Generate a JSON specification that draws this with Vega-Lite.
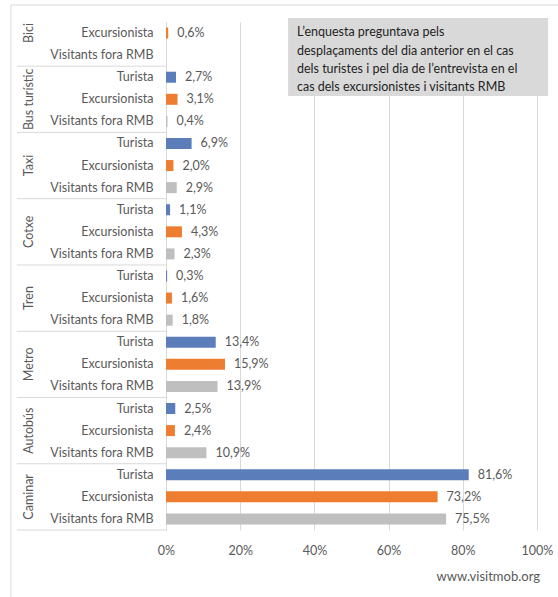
{
  "$schema": "https://vega.github.io/schema/vega-lite/v6.json",
  "width": 371,
  "height": 508,
  "autosize": {"type": "none"},
  "padding": {"left": 166, "top": 22, "right": 21, "bottom": 67},
  "background": "white",
  "config": {
    "view": {"stroke": null},
    "font": "Lato",
    "axis": {"labelFont": "Lato", "labelColor": "#595959", "labelFontSize": 12.5}
  },
  "resolve": {"scale": {"y": "independent"}, "axis": {"y": "independent"}},
  "layer": [
    {
      "data": {
        "values": [
          {"group": "Bici", "series": "Excursionista", "pct": 0.6},
          {"group": "Bici", "series": "Visitants fora RMB", "pct": null},
          {"group": "Bus turístic", "series": "Turista", "pct": 2.7},
          {"group": "Bus turístic", "series": "Excursionista", "pct": 3.1},
          {"group": "Bus turístic", "series": "Visitants fora RMB", "pct": 0.4},
          {"group": "Taxi", "series": "Turista", "pct": 6.9},
          {"group": "Taxi", "series": "Excursionista", "pct": 2.0},
          {"group": "Taxi", "series": "Visitants fora RMB", "pct": 2.9},
          {"group": "Cotxe", "series": "Turista", "pct": 1.1},
          {"group": "Cotxe", "series": "Excursionista", "pct": 4.3},
          {"group": "Cotxe", "series": "Visitants fora RMB", "pct": 2.3},
          {"group": "Tren", "series": "Turista", "pct": 0.3},
          {"group": "Tren", "series": "Excursionista", "pct": 1.6},
          {"group": "Tren", "series": "Visitants fora RMB", "pct": 1.8},
          {"group": "Metro", "series": "Turista", "pct": 13.4},
          {"group": "Metro", "series": "Excursionista", "pct": 15.9},
          {"group": "Metro", "series": "Visitants fora RMB", "pct": 13.9},
          {"group": "Autobús", "series": "Turista", "pct": 2.5},
          {"group": "Autobús", "series": "Excursionista", "pct": 2.4},
          {"group": "Autobús", "series": "Visitants fora RMB", "pct": 10.9},
          {"group": "Caminar", "series": "Turista", "pct": 81.6},
          {"group": "Caminar", "series": "Excursionista", "pct": 73.2},
          {"group": "Caminar", "series": "Visitants fora RMB", "pct": 75.5}
        ]
      },
      "transform": [
        {"calculate": "datum.group + '|' + datum.series", "as": "key"},
        {"calculate": "datum.pct == null ? '' : replace(format(datum.pct, '.1f'), '.', ',') + '%'", "as": "lbl"},
        {"calculate": "datum.series == 'Excursionista' ? datum.group : ''", "as": "glabel"}
      ],
      "layer": [
        {
          "mark": {"type": "bar", "size": 11},
          "encoding": {
            "y": {
              "field": "key", "type": "nominal", "sort": null,
              "scale": {
                "paddingInner": 0, "paddingOuter": 0,
                "domain": [
                  "Bici|Excursionista", "Bici|Visitants fora RMB",
                  "Bus turístic|Turista", "Bus turístic|Excursionista", "Bus turístic|Visitants fora RMB",
                  "Taxi|Turista", "Taxi|Excursionista", "Taxi|Visitants fora RMB",
                  "Cotxe|Turista", "Cotxe|Excursionista", "Cotxe|Visitants fora RMB",
                  "Tren|Turista", "Tren|Excursionista", "Tren|Visitants fora RMB",
                  "Metro|Turista", "Metro|Excursionista", "Metro|Visitants fora RMB",
                  "Autobús|Turista", "Autobús|Excursionista", "Autobús|Visitants fora RMB",
                  "Caminar|Turista", "Caminar|Excursionista", "Caminar|Visitants fora RMB"
                ]
              },
              "axis": {
                "title": null, "labelExpr": "split(datum.value, '|')[1]",
                "ticks": false, "domain": true, "domainColor": "#D9D9D9",
                "labelPadding": 13, "grid": false
              }
            },
            "x": {
              "field": "pct", "type": "quantitative",
              "scale": {"domain": [0, 100], "nice": false},
              "axis": {
                "title": null, "values": [0, 20, 40, 60, 80, 100],
                "labelExpr": "datum.value + '%'", "grid": true, "gridColor": "#D9D9D9",
                "domain": false, "ticks": false, "labelPadding": 14, "labelFlush": false
              }
            },
            "color": {
              "field": "series", "type": "nominal",
              "scale": {"domain": ["Turista", "Excursionista", "Visitants fora RMB"], "range": ["#5B7DB9", "#ED7D31", "#BFBFBF"]},
              "legend": null
            }
          }
        },
        {
          "mark": {"type": "text", "align": "left", "baseline": "middle", "dx": 9, "fontSize": 12.5, "color": "#595959"},
          "encoding": {
            "y": {"field": "key", "type": "nominal", "sort": null},
            "x": {"field": "pct", "type": "quantitative", "scale": {"domain": [0, 100], "nice": false}},
            "text": {"field": "lbl"}
          }
        },
        {
          "mark": {"type": "text", "align": "center", "baseline": "middle", "angle": 270, "fontSize": 12.5, "color": "#595959"},
          "encoding": {
            "y": {"field": "key", "type": "nominal", "sort": null},
            "x": {"datum": -37, "type": "quantitative", "scale": {"domain": [0, 100], "nice": false}},
            "text": {"field": "glabel"}
          }
        },
        {
          "mark": {"type": "rule", "color": "#D9D9D9", "strokeWidth": 1},
          "encoding": {
            "y": {"field": "key", "type": "nominal", "sort": null, "bandPosition": 0},
            "x": {"datum": -40.2, "type": "quantitative", "scale": {"domain": [0, 100], "nice": false}},
            "x2": {"datum": 0},
            "strokeOpacity": {"condition": {"test": "datum.series == 'Turista'", "value": 1}, "value": 0}
          }
        },
        {
          "mark": {"type": "rule", "color": "#D9D9D9", "strokeWidth": 1},
          "encoding": {
            "y": {"field": "key", "type": "nominal", "sort": null, "bandPosition": 1},
            "x": {"datum": -40.2, "type": "quantitative", "scale": {"domain": [0, 100], "nice": false}},
            "x2": {"datum": 0},
            "strokeOpacity": {"condition": {"test": "datum.group == 'Caminar' && datum.series == 'Visitants fora RMB'", "value": 1}, "value": 0}
          }
        }
      ]
    },
    {
      "data": {"values": [{}]},
      "layer": [
        {
          "mark": {"type": "rule", "color": "#D9D9D9", "strokeWidth": 1},
          "encoding": {
            "x": {"datum": -41.8, "type": "quantitative", "scale": {"domain": [0, 100], "nice": false}},
            "x2": {"datum": 105.7},
            "y": {"datum": -0.77, "type": "quantitative", "scale": {"domain": [0, 23], "reverse": true, "nice": false, "zero": false}, "axis": null}
          }
        },
        {
          "mark": {"type": "rule", "color": "#D9D9D9", "strokeWidth": 1},
          "encoding": {
            "x": {"datum": -41.8, "type": "quantitative", "scale": {"domain": [0, 100], "nice": false}},
            "y": {"datum": -0.77, "type": "quantitative", "scale": {"domain": [0, 23], "reverse": true, "nice": false, "zero": false}, "axis": null},
            "y2": {"datum": 26.1}
          }
        },
        {
          "mark": {"type": "rect", "color": "#D9D9D9"},
          "encoding": {
            "x": {"datum": 32.9, "type": "quantitative", "scale": {"domain": [0, 100], "nice": false}},
            "x2": {"datum": 103.0},
            "y": {"datum": -0.18, "type": "quantitative", "scale": {"domain": [0, 23], "reverse": true, "nice": false, "zero": false}, "axis": null},
            "y2": {"datum": 3.35}
          }
        },
        {
          "mark": {"type": "text", "align": "left", "baseline": "top", "fontSize": 12.5, "lineHeight": 18.3, "color": "#1F1F1F"},
          "encoding": {
            "x": {"datum": 35.3, "type": "quantitative", "scale": {"domain": [0, 100], "nice": false}},
            "y": {"datum": 0.2, "type": "quantitative", "scale": {"domain": [0, 23], "reverse": true, "nice": false, "zero": false}, "axis": null},
            "text": {"value": ["L’enquesta preguntava pels", "desplaçaments del dia anterior en el cas", "dels turistes i pel dia de l’entrevista en el", "cas dels excursionistes i visitants RMB"]}
          }
        },
        {
          "mark": {"type": "text", "align": "right", "baseline": "middle", "fontSize": 13, "color": "#595959"},
          "encoding": {
            "x": {"datum": 100.8, "type": "quantitative", "scale": {"domain": [0, 100], "nice": false}},
            "y": {"datum": 25.13, "type": "quantitative", "scale": {"domain": [0, 23], "reverse": true, "nice": false, "zero": false}, "axis": null},
            "text": {"value": "www.visitmob.org"}
          }
        }
      ]
    }
  ]
}
